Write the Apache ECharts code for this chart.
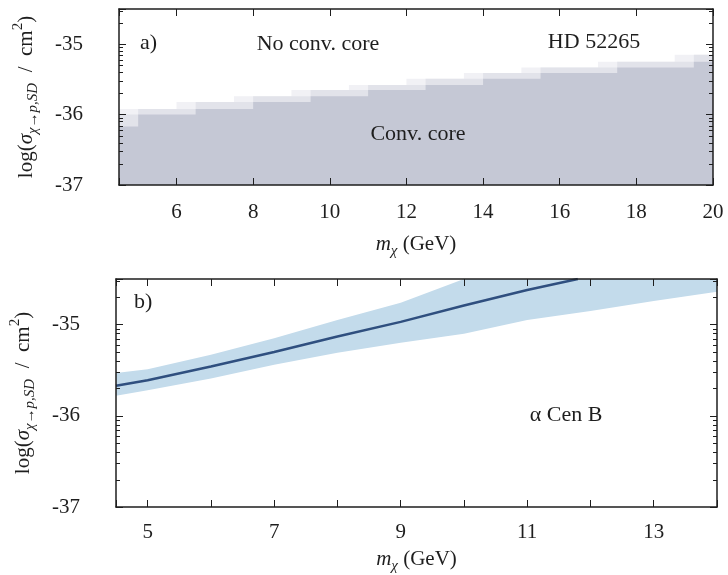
<!DOCTYPE html>
<html>
<head>
<meta charset="utf-8">
<script src="https://cdn.jsdelivr.net/npm/echarts@6/dist/echarts.min.js"></script>
<style>
html,body{margin:0;padding:0;background:#fff}
#main{width:728px;height:575px}
</style>
</head>
<body>
<div id="main"></div>
<script>
// panel a) HD 52265 -- columns of 0.5 GeV, tops of the three shades (log sigma)
const massA      = [4.5, 5, 6, 6.5, 7.5, 8, 9, 9.5, 10.5, 11, 12, 12.5, 13.5, 14, 15, 15.5, 17, 17.5, 19, 19.5, 20];
const paleTopA   = [-35.92, -35.92, -35.82, -35.82, -35.74, -35.74, -35.65, -35.65, -35.58, -35.58, -35.49, -35.49, -35.41, -35.41, -35.33, -35.33, -35.25, -35.25, -35.15, -35.15, -35.15];
const lightTopA  = [-36.00, -35.92, -35.92, -35.82, -35.82, -35.74, -35.74, -35.65, -35.65, -35.58, -35.58, -35.49, -35.49, -35.41, -35.41, -35.33, -35.33, -35.25, -35.25, -35.15, -35.15];
const solidTopA  = [-36.17, -36.00, -36.00, -35.92, -35.92, -35.82, -35.82, -35.74, -35.74, -35.65, -35.65, -35.58, -35.58, -35.49, -35.49, -35.41, -35.41, -35.33, -35.33, -35.25, -35.25];

// panel b) alpha Cen B
const massB  = [4.5, 5, 6, 7, 8, 9, 10, 11, 12, 13, 14];
const lowerB = [-35.78, -35.72, -35.59, -35.44, -35.31, -35.20, -35.10, -34.95, -34.85, -34.74, -34.64];
const upperB = [-35.53, -35.49, -35.33, -35.15, -34.95, -34.76, -34.50, -34.50, -34.50, -34.50, -34.50];
const lineMassB = [4.5, 5, 6, 7, 8, 9, 10, 11, 11.8];
const lineB     = [-35.67, -35.61, -35.46, -35.30, -35.13, -34.97, -34.79, -34.62, -34.50];

const yMin = -37, yMax = -34.5;
const font = 'Liberation Serif';
const ink = '#1e1e1e';

// log-type minor ticks between the decades
const minorTickVals = [];
for (let d = -37; d < -34.5; d++) {
    for (let k = 2; k < 10; k++) {
        let v = d + Math.log10(k);
        if (v < yMax) minorTickVals.push(v);
    }
}

function pairs(xs, ys) {
    return xs.map((x, i) => [x, ys[i]]);
}

function stepArea(name, ys, color) {
    return {
        name: name, type: 'line', xAxisIndex: 0, yAxisIndex: 0,
        step: 'end', showSymbol: false, silent: true, z: 1,
        lineStyle: {width: 0},
        areaStyle: {color: color, opacity: 1, origin: 'start'},
        data: pairs(massA, ys)
    };
}

function bandEdge(name, ys, color, z) {
    return {
        name: name, type: 'line', xAxisIndex: 2, yAxisIndex: 2,
        showSymbol: false, silent: true, z: z,
        lineStyle: {width: 0},
        areaStyle: {color: color, opacity: 1, origin: 'start'},
        data: pairs(massB, ys)
    };
}

function minorTicks(xi, yi, xMin) {
    return {
        type: 'custom', xAxisIndex: xi, yAxisIndex: yi, silent: true, z: 12,
        data: minorTickVals.map(v => [xMin, v]),
        renderItem: function (params, api) {
            let cs = params.coordSys;
            let y = Math.round(api.coord([api.value(0), api.value(1)])[1]) + 0.5;
            let st = {stroke: ink, lineWidth: 1};
            return {
                type: 'group', children: [
                    {type: 'line', shape: {x1: cs.x, y1: y, x2: cs.x + 4, y2: y}, style: st},
                    {type: 'line', shape: {x1: cs.x + cs.width - 4, y1: y, x2: cs.x + cs.width, y2: y}, style: st}
                ]
            };
        }
    };
}

const axisLine = {lineStyle: {color: ink, width: 1.5}};
const tick = {inside: true, length: 7, lineStyle: {color: ink, width: 1}};
const labelStyle = {fontFamily: font, fontSize: 21, color: ink};

const yName = '{n|log(}{i|σ}{s|χ→p,SD}{n|  /  cm}{p|2}{n|)}';
const xName = '{i|m}{s|χ}{n| (GeV)}';
const richName = {
    n: {fontFamily: font, fontSize: 21, color: ink, lineHeight: 30, verticalAlign: 'middle'},
    i: {fontFamily: font, fontSize: 21, fontStyle: 'italic', color: ink, lineHeight: 30, verticalAlign: 'middle'},
    s: {fontFamily: font, fontSize: 15, fontStyle: 'italic', color: ink, lineHeight: 26, verticalAlign: 'bottom'},
    p: {fontFamily: font, fontSize: 15, color: ink, lineHeight: 30, verticalAlign: 'top'}
};

function yAxisPair(gi) {
    return [
        {type: 'value', gridIndex: gi, min: yMin, max: yMax, interval: 1, z: 10,
         splitLine: {show: false}, axisLine: axisLine, axisTick: tick,
         axisLabel: Object.assign({margin: 36, formatter: v => Number.isInteger(v) ? String(v) : ''}, labelStyle),
         name: yName, nameLocation: 'middle', nameRotate: 90, nameGap: 78,
         nameTextStyle: {rich: richName}},
        {type: 'value', gridIndex: gi, position: 'right', min: yMin, max: yMax, interval: 1, z: 10,
         splitLine: {show: false}, axisLine: axisLine, axisTick: tick, axisLabel: {show: false}}
    ];
}

let chart = echarts.init(document.getElementById('main'));
let option = {
    backgroundColor: '#fff',
    animation: false,
    grid: [
        {left: 119, top: 9, width: 594, height: 176, outerBoundsMode: 'none'},
        {left: 116, top: 279, width: 601, height: 228, outerBoundsMode: 'none'}
    ],
    xAxis: [
        {type: 'value', gridIndex: 0, min: 4.5, max: 20, splitNumber: 8, z: 10,
         splitLine: {show: false}, axisLine: axisLine, axisTick: tick,
         axisLabel: Object.assign({margin: 17, formatter: v => Number.isInteger(v) ? String(v) : ''}, labelStyle),
         name: xName, nameLocation: 'middle', nameGap: 44, nameTextStyle: {rich: richName}},
        {type: 'value', gridIndex: 0, position: 'top', min: 4.5, max: 20, splitNumber: 8, z: 10,
         splitLine: {show: false}, axisLine: axisLine, axisTick: tick, axisLabel: {show: false}},
        {type: 'value', gridIndex: 1, min: 4.5, max: 14, splitNumber: 10, z: 10,
         splitLine: {show: false}, axisLine: axisLine, axisTick: tick,
         axisLabel: Object.assign({margin: 15, formatter: v => (Number.isInteger(v) && v % 2 === 1) ? String(v) : ''}, labelStyle),
         name: xName, nameLocation: 'middle', nameGap: 37, nameTextStyle: {rich: richName}},
        {type: 'value', gridIndex: 1, position: 'top', min: 4.5, max: 14, splitNumber: 10, z: 10,
         splitLine: {show: false}, axisLine: axisLine, axisTick: tick, axisLabel: {show: false}}
    ],
    yAxis: yAxisPair(0).concat(yAxisPair(1)),
    series: [
        stepArea('pale', paleTopA, '#f1f1f5'),
        stepArea('light', lightTopA, '#e2e3ea'),
        stepArea('Conv. core', solidTopA, '#c5c8d5'),
        // band: upper edge filled down, the region under the lower edge painted back to white
        bandEdge('upper', upperB, '#c3dbeb', 1),
        bandEdge('lower', lowerB, '#ffffff', 2),
        {name: 'alpha Cen B', type: 'line', xAxisIndex: 2, yAxisIndex: 2,
         showSymbol: false, silent: true, z: 3,
         lineStyle: {color: '#2f4f7f', width: 2.5},
         data: pairs(lineMassB, lineB)},
        minorTicks(0, 0, 4.5),
        minorTicks(2, 2, 4.5)
    ],
    graphic: {
        z: 100,
        elements: [
            {type: 'text', left: 140, top: 32, z: 100, style: {text: 'a)', font: '22px "Liberation Serif"', fill: ink}},
            {type: 'text', x: 318, y: 44, z: 100, style: {text: 'No conv. core', font: '22px "Liberation Serif"', fill: ink, align: 'center', verticalAlign: 'middle'}},
            {type: 'text', x: 594, y: 42, z: 100, style: {text: 'HD 52265', font: '22px "Liberation Serif"', fill: ink, align: 'center', verticalAlign: 'middle'}},
            {type: 'text', x: 418, y: 134, z: 100, style: {text: 'Conv. core', font: '22px "Liberation Serif"', fill: ink, align: 'center', verticalAlign: 'middle'}},
            {type: 'text', left: 134, top: 291, z: 100, style: {text: 'b)', font: '22px "Liberation Serif"', fill: ink}},
            {type: 'text', x: 566, y: 415, z: 100, style: {text: 'α Cen B', font: '22px "Liberation Serif"', fill: ink, align: 'center', verticalAlign: 'middle'}}
        ]
    }
};
chart.setOption(option);
</script>
</body>
</html>
